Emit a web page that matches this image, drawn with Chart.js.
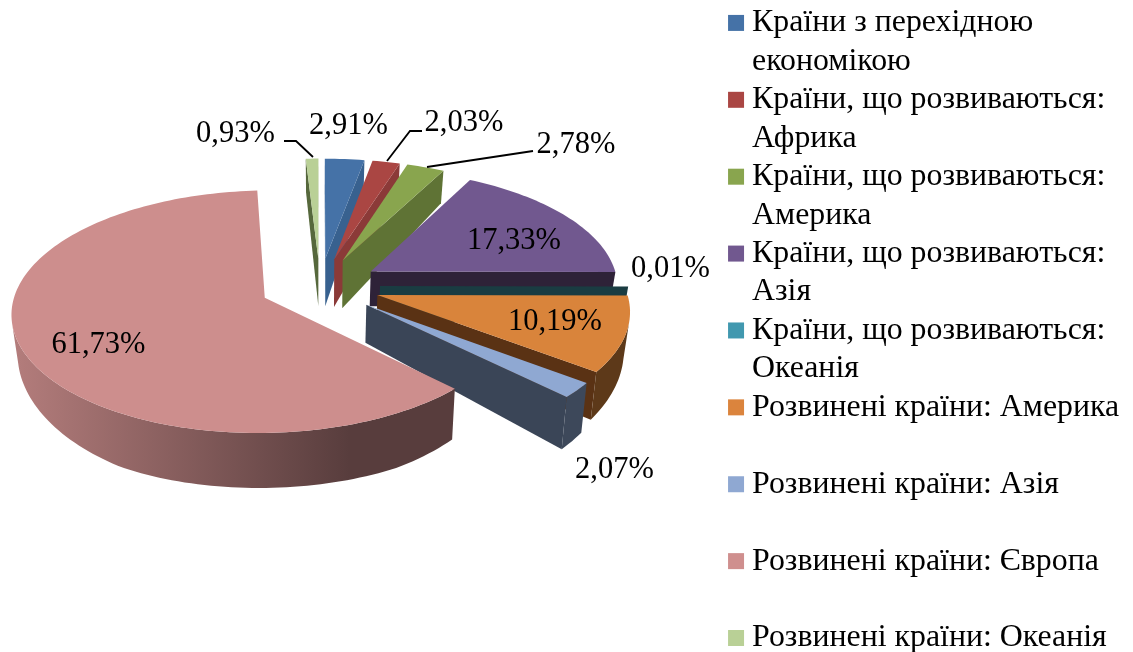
<!DOCTYPE html>
<html>
<head>
<meta charset="utf-8">
<script src="https://cdn.jsdelivr.net/npm/chart.js@4"></script>
<style>
html,body{margin:0;padding:0;background:#fff;}
#wrap{width:1133px;height:652px;position:relative;}
canvas{filter:blur(0.45px);}
</style>
</head>
<body>
<div id="wrap"><canvas id="c" width="1133" height="652"></canvas></div>
<script>
const categories = [
  ["Країни з перехідною","економікою"],
  ["Країни, що розвиваються:","Африка"],
  ["Країни, що розвиваються:","Америка"],
  ["Країни, що розвиваються:","Азія"],
  ["Країни, що розвиваються:","Океанія"],
  ["Розвинені країни: Америка",""],
  ["Розвинені країни: Азія",""],
  ["Розвинені країни: Європа",""],
  ["Розвинені країни: Океанія",""]
];
const values = [2.91, 2.03, 2.78, 17.33, 0.01, 10.19, 2.07, 61.73, 0.93];
const colors = ["#4572a7","#aa4643","#89a54e","#71588f","#4198af","#db843d","#8fa8d2","#cf8f8e","#b9d096"];
const topColors = ["#4572a7","#aa4643","#89a54e","#71588f","#1c4a52","#d9843b","#8fa8d2","#cd8e8d","#b9d096"];
const wallColors = ["#38618f","#8b3a38","#5f7335","#2e2238","#1a3c42","#5a3214","#3a4557","#5a3c3c","#56683c"];
const apexExtra = [14,14,14,0,0,0,0,0,14];
const labelPlaces = [[348.5,126],[464,123],[576,145],[514,241],[670.5,269],[555,322],[614.5,470],[98.5,345],[235.5,134]];
const leaders = [null,[[422,131],[410,131],[387,161]],[[533,151],[427,167]],null,null,null,null,null,[[284,141],[296,141],[313,157]]];

const view = {persp:0.113, ry:117, shrink:0.98, d0:36, d1:12, d2:8, dMax:55};

function shade(hex,f){
  const n=parseInt(hex.slice(1),16);
  const r=(n>>16)&255,g=(n>>8)&255,b=n&255;
  return `rgb(${Math.round(r*f)},${Math.round(g*f)},${Math.round(b*f)})`;
}
const pie3d = {
  id:'pie3d',
  afterLayout(chart){
    const a = chart.chartArea;
    a.left=0;a.right=640;a.top=0;a.bottom=572;a.width=640;a.height=572;
    const l = chart.legend;
    l.left=736;l.right=1133;l.top=7;l.bottom=3000;
    l.draw=function(){ this._draw(); };
  },
  beforeDatasetsDraw(chart){
    const ctx=chart.ctx, meta=chart.getDatasetMeta(0);
    meta.data.forEach((arc,i)=>{
      const {x:cx,y:cy,startAngle,endAngle,outerRadius:R}=arc;
      const e=(arc.options.offset||0)/4/R, mid=(startAngle+endAngle)/2;
      const ox=Math.cos(mid)*e, oy=Math.sin(mid)*e;
      const top=(wx,wy)=>{
        const s=1/(1-view.persp*wy);
        return [cx+wx*R*s, cy+wy*view.ry*s];
      };
      const bot=(wx,wy,extra)=>{
        const p=top(wx,wy);
        return [cx+(p[0]-cx)*view.shrink, p[1]+Math.min(view.dMax,view.d0+view.d1*wy+view.d2*wy*wy)+(extra||0)];
      };
      const w=[[ox,oy]];
      const steps=Math.max(1,Math.ceil((endAngle-startAngle)/0.025));
      for(let k=0;k<=steps;k++){
        const t=startAngle+(endAngle-startAngle)*k/steps;
        w.push([ox+Math.cos(t),oy+Math.sin(t)]);
      }
      const visible=(a,b)=>{
        const p=top(a[0],a[1]),q=top(b[0],b[1]),r=bot(b[0],b[1]),u=bot(a[0],a[1]);
        const nx=q[1]-p[1],ny=-(q[0]-p[0]);
        const dx=(u[0]-p[0]+r[0]-q[0])/2,dy=(u[1]-p[1]+r[1]-q[1])/2;
        return nx*dx+ny*dy>0;
      };
      const poly=(pts,fill)=>{
        ctx.beginPath();
        pts.forEach((p,k)=>k?ctx.lineTo(p[0],p[1]):ctx.moveTo(p[0],p[1]));
        ctx.closePath();ctx.fillStyle=fill;ctx.fill();
      };
      const last=w.length-1;
      if(visible(w[0],w[1])) poly([top(...w[0]),top(...w[1]),bot(...w[1]),bot(w[0][0],w[0][1],apexExtra[i])],wallColors[i]);
      if(visible(w[last],w[0])) poly([top(...w[last]),top(...w[0]),bot(w[0][0],w[0][1],apexExtra[i]),bot(...w[last])],wallColors[i]);
      // outer rim: one shaded band over the part that faces the viewer
      const upper=[],lower=[];
      for(let k=1;k<last;k++){
        if(visible(w[k],w[k+1])){
          if(!upper.length){upper.push(top(...w[k]));lower.push(bot(...w[k]));}
          upper.push(top(...w[k+1]));lower.push(bot(...w[k+1]));
        }
      }
      if(upper.length){
        const g=ctx.createLinearGradient(cx-1.24*R,0,cx+0.12*R,0);
        g.addColorStop(0,shade(topColors[i],0.88));
        g.addColorStop(1,shade(topColors[i],0.43));
        poly(upper.concat(lower.reverse()),g);
      }
      poly(w.map(pt=>top(pt[0],pt[1])),topColors[i]);
    });
    // leader lines and value labels
    ctx.save();
    ctx.strokeStyle="#000";ctx.lineWidth=1.8;
    leaders.forEach(pts=>{
      if(!pts) return;
      ctx.beginPath();
      pts.forEach((p,k)=>k?ctx.lineTo(p[0],p[1]):ctx.moveTo(p[0],p[1]));
      ctx.stroke();
    });
    ctx.fillStyle="#000";
    ctx.font='30.5px "Liberation Serif"';
    ctx.textAlign="center";ctx.textBaseline="middle";
    values.forEach((v,i)=>{
      ctx.fillText(v.toFixed(2).replace(".",",")+"%",labelPlaces[i][0],labelPlaces[i][1]);
    });
    ctx.restore();
    return false;
  }
};
new Chart(document.getElementById('c'),{
  type:'pie',
  data:{labels:categories.map(c=>c.join(' ').trim()),datasets:[{data:values,backgroundColor:colors,borderWidth:0,offset:240,hoverOffset:240,radius:248}]},
  plugins:[pie3d],
  options:{
    responsive:false,animation:false,
    events:[],
    plugins:{
      tooltip:{enabled:false},
      legend:{
        position:'right',align:'start',
        labels:{
          boxWidth:0.1,boxHeight:0.1,padding:0,color:'#000',
          font:{family:'"Liberation Serif"',size:31.85,lineHeight:1.207},
          generateLabels:()=>categories.map((t,i)=>({text:t,fillStyle:colors[i],strokeStyle:colors[i],lineWidth:15.9,lineJoin:'miter',hidden:false,index:i}))
        }
      }
    }
  }
});
</script>
</body>
</html>
